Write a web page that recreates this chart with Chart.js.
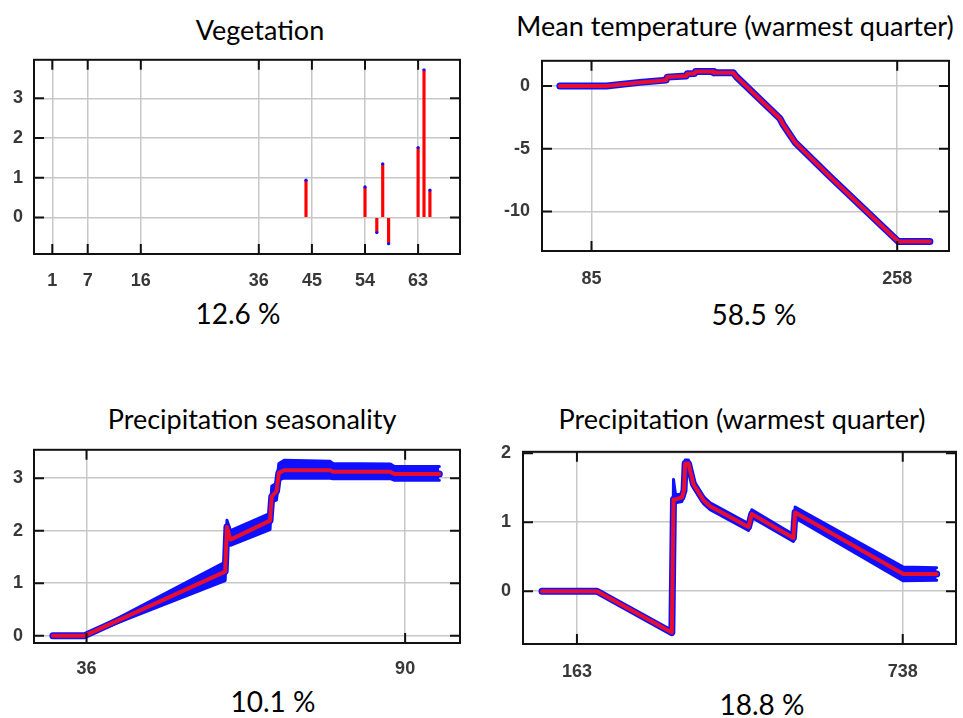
<!DOCTYPE html>
<html>
<head>
<meta charset="utf-8">
<title>Response curves</title>
<script src="https://cdn.jsdelivr.net/npm/chart.js@4.4.1/dist/chart.umd.min.js"></script>
<style>
    body { margin: 0; background: #fff; }
    #page { position: relative; width: 963px; height: 718px; overflow: hidden; background: #fff; }
    canvas { position: absolute; }
    .txt { position: absolute; font-family: Lato, "Open Sans", sans-serif; color: #000; white-space: nowrap; line-height: 1; transform: translate(-50%, -50%); }
    .ttl { font-size: 27px; }
    .pct { font-size: 28px; }
</style>
</head>
<body>
<div id="page">
    <div class="txt ttl" style="left:260px;top:29px">Vegetation</div>
    <div class="txt pct" style="left:238px;top:313px">12.6 %</div>
    <div class="txt ttl" style="left:735px;top:25px">Mean temperature (warmest quarter)</div>
    <div class="txt pct" style="left:754px;top:314px">58.5 %</div>
    <div class="txt ttl" style="left:252px;top:418px">Precipitation seasonality</div>
    <div class="txt pct" style="left:273px;top:701px">10.1 %</div>
    <div class="txt ttl" style="left:742px;top:418px">Precipitation (warmest quarter)</div>
    <div class="txt pct" style="left:762px;top:704px">18.8 %</div>

    <canvas id="veg" style="left:0px;top:38px" width="470" height="256"></canvas>
    <canvas id="temp" style="left:490px;top:38px" width="469" height="253"></canvas>
    <canvas id="seas" style="left:0px;top:428px" width="470" height="255"></canvas>
    <canvas id="warm" style="left:483px;top:429px" width="479" height="255"></canvas>
</div>

<script>
// Vegetation
var vegTicksX = [1, 7, 16, 36, 45, 54, 63];
var vegTicksY = [0, 1, 2, 3];
var vegX = [44, 54, 56, 57, 58, 63, 64, 65];
var vegY = [0.94, 0.77, -0.38, 1.35, -0.66, 1.76, 3.72, 0.69];

// Mean temperature (warmest quarter)
var tempTicksX = [85, 258];
var tempTicksY = [-10, -5, 0];
var tempX = [67.1, 93.5, 112.3, 127.3, 127.8, 138.6, 139.2, 143.3, 143.8, 153.8, 154.3, 165.2, 167.1, 191.6, 193.5, 200.1, 219.9, 258.6, 276.5];
var tempY = [0, 0, 0.28, 0.46, 0.70, 0.79, 0.96, 0.98, 1.14, 1.14, 1.04, 1.04, 0.72, -2.6, -3.09, -4.48, -7.22, -12.39, -12.39];

// Precipitation seasonality
var seasTicksX = [36, 90];
var seasTicksY = [0, 1, 2, 3];
var seasX = [30.3, 35.7, 59.5, 59.8, 60.4, 67.1, 67.4, 68.2, 68.6, 69.5, 77.3, 77.8, 87.5, 88.2, 95.8];
var seasY = [0, 0, 1.22, 2.07, 1.83, 2.19, 2.65, 2.75, 3.10, 3.15, 3.15, 3.12, 3.12, 3.08, 3.08];
var seasLow = [0, 0, 1.05, 1.75, 1.72, 2.02, 2.55, 2.58, 2.97, 3.00, 3.00, 2.99, 2.99, 2.96, 2.96];
var seasHigh = [0, 0, 1.40, 2.20, 2.00, 2.33, 2.85, 2.90, 3.28, 3.34, 3.32, 3.28, 3.27, 3.22, 3.22];

// Precipitation (warmest quarter)
var warmTicksX = [163, 738];
var warmTicksY = [0, 1, 2];
var warmX = [101.3, 198.3, 330.5, 333.4, 337, 348.2, 352, 354, 359.8, 368.7, 386.3, 398.1, 465.7, 471.6, 545, 548, 739.1, 797.9];
var warmY = [0, 0, -0.6, 1.33, 1.33, 1.36, 1.46, 1.85, 1.85, 1.55, 1.32, 1.23, 0.93, 1.12, 0.77, 1.14, 0.25, 0.25];
var warmLow = [0, 0, -0.6, 1.25, 1.28, 1.30, 1.40, 1.80, 1.80, 1.50, 1.27, 1.18, 0.88, 1.07, 0.72, 1.06, 0.15, 0.16];
var warmHigh = [0, 0, -0.6, 1.62, 1.40, 1.40, 1.50, 1.90, 1.90, 1.60, 1.37, 1.28, 0.98, 1.18, 0.82, 1.22, 0.35, 0.34];

var RED = 'rgb(232,14,48)';
var BLUE = '#1010ff';

function pts(xs, ys) {
    return xs.map(function (x, i) { return { x: x, y: ys[i] }; });
}

// black frame + gnuplot style inner tick marks
var frame = {
    id: 'frame',
    afterDraw: function (chart) {
        var ctx = chart.ctx, a = chart.chartArea, xs = chart.scales.x, ys = chart.scales.y;
        ctx.save();
        ctx.strokeStyle = '#111';
        ctx.lineWidth = 2;
        ctx.beginPath();
        xs.ticks.forEach(function (t) {
            var px = xs.getPixelForValue(t.value);
            ctx.moveTo(px, a.top); ctx.lineTo(px, a.top + 10);
            ctx.moveTo(px, a.bottom); ctx.lineTo(px, a.bottom - 10);
        });
        ys.ticks.forEach(function (t) {
            var py = ys.getPixelForValue(t.value);
            ctx.moveTo(a.left, py); ctx.lineTo(a.left + 10, py);
            ctx.moveTo(a.right, py); ctx.lineTo(a.right - 10, py);
        });
        ctx.stroke();
        ctx.strokeRect(a.left, a.top, a.right - a.left, a.bottom - a.top);
        ctx.restore();
    }
};

function axes(xMin, xMax, xTicks, yMin, yMax, yTicks, yWidth, yPad, xPad) {
    var tickFont = { family: '"Liberation Sans"', size: 18, weight: 'bold' };
    return {
        x: {
            type: 'linear', min: xMin, max: xMax, offset: false,
            afterBuildTicks: function (s) { s.ticks = xTicks.map(function (v) { return { value: v }; }); },
            afterFit: function (s) { s.height = 40; },
            grid: { color: '#c8c8c8', lineWidth: 1.5, drawTicks: false, offset: false },
            border: { display: false },
            ticks: { font: tickFont, color: '#383838', padding: xPad, maxRotation: 0, autoSkip: false }
        },
        y: {
            type: 'linear', min: yMin, max: yMax,
            afterBuildTicks: function (s) { s.ticks = yTicks.map(function (v) { return { value: v }; }); },
            afterFit: function (s) { s.width = yWidth; },
            grid: { color: '#c8c8c8', lineWidth: 1.5, drawTicks: false },
            border: { display: false },
            ticks: { font: tickFont, color: '#383838', padding: yPad, autoSkip: false }
        }
    };
}

function baseOptions(scales, padRight) {
    return {
        responsive: false,
        animation: false,
        layout: { padding: { top: 14, right: padRight, left: 0, bottom: 0 } },
        plugins: { legend: { display: false }, tooltip: { enabled: false } },
        scales: scales
    };
}

function lineSets(xs, ys, lows, highs, outline) {
    var sets = [
        { data: pts(xs, ys), borderColor: RED, borderWidth: 4, pointRadius: 0, fill: false,
          borderJoinStyle: 'round', borderCapStyle: 'round', tension: 0 },
        { data: pts(xs, ys), borderColor: BLUE, borderWidth: outline, pointRadius: 0, fill: false,
          borderJoinStyle: 'round', borderCapStyle: 'round', tension: 0 }
    ];
    if (lows) {
        sets.push({ data: pts(xs, highs), borderColor: BLUE, backgroundColor: BLUE, borderWidth: 3,
                    pointRadius: 0, fill: '+1', borderJoinStyle: 'round', borderCapStyle: 'round', tension: 0 });
        sets.push({ data: pts(xs, lows), borderColor: BLUE, borderWidth: 3, pointRadius: 0, fill: false,
                    borderJoinStyle: 'round', borderCapStyle: 'round', tension: 0 });
    }
    return sets;
}

/*Vegetation*/
new Chart(document.getElementById('veg'), {
    type: 'bar',
    data: {
        datasets: [
            { type: 'scatter', data: pts(vegX, vegY), pointRadius: 1.6, pointBorderWidth: 0,
              pointBackgroundColor: BLUE },
            { data: pts(vegX, vegY), backgroundColor: 'rgb(255,0,0)', barThickness: 2.5 }
        ]
    },
    options: baseOptions(axes(-2.1, 70.1, vegTicksX, -0.92, 3.97, vegTicksY, 34, 11, 16), 10),
    plugins: [frame]
});

/*Mean temperature*/
new Chart(document.getElementById('temp'), {
    type: 'line',
    data: { datasets: lineSets(tempX, tempY, null, null, 7) },
    options: baseOptions(axes(57, 287.3, tempTicksX, -13.15, 2, tempTicksY, 52, 12, 17), 10),
    plugins: [frame]
});

/*Precipitation seasonality*/
new Chart(document.getElementById('seas'), {
    type: 'line',
    data: { datasets: lineSets(seasX, seasY, seasLow, seasHigh, 7) },
    options: baseOptions(axes(27.1, 99.3, seasTicksX, -0.14, 3.54, seasTicksY, 34, 11, 15), 10),
    plugins: [frame]
});

/*Precipitation warmest quarter*/
new Chart(document.getElementById('warm'), {
    type: 'line',
    data: { datasets: lineSets(warmX, warmY, warmLow, warmHigh, 7) },
    options: baseOptions(axes(67.8, 832, warmTicksX, -0.765, 2.02, warmTicksY, 40, 12, 17), 6),
    plugins: [frame]
});
</script>
</body>
</html>
